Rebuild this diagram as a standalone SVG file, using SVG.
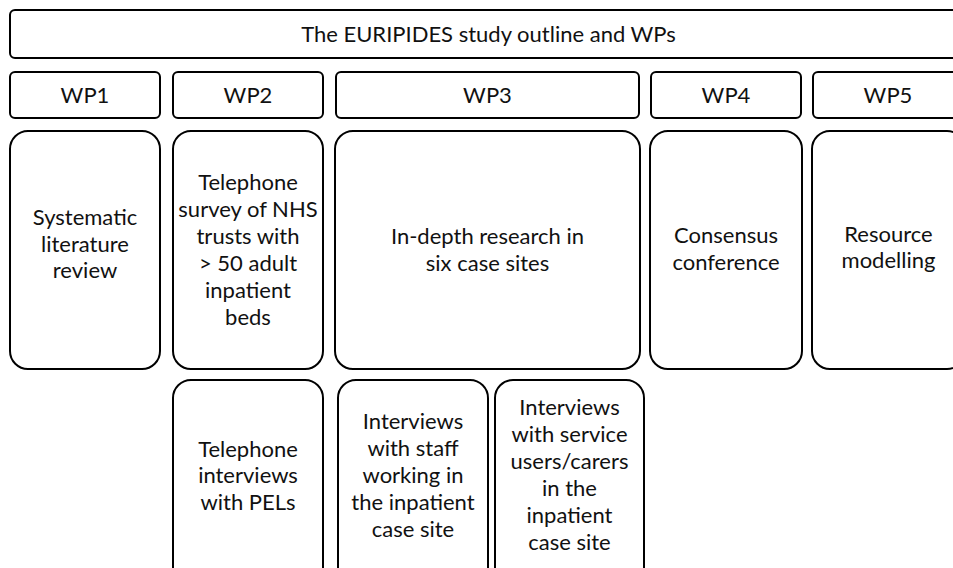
<svg xmlns="http://www.w3.org/2000/svg" width="953" height="568" viewBox="0 0 953 568">
<style>
.b{fill:#fff;stroke:#000;stroke-width:2}
text{font-family:Lato,"Open Sans","Liberation Sans",sans-serif;font-size:22px;fill:#111;text-anchor:middle}
</style>
<rect width="953" height="568" fill="#fff"/>
<g id="title"><rect class="b" x="10" y="10" width="957" height="48" rx="5"/><text x="488.5" y="42">The EURIPIDES study outline and WPs</text></g>
<g id="wp1"><rect class="b" x="10" y="72" width="150" height="46" rx="5"/><text x="85" y="103">WP1</text></g>
<g id="wp2"><rect class="b" x="173" y="72" width="150" height="46" rx="5"/><text x="248" y="103">WP2</text></g>
<g id="wp3"><rect class="b" x="336" y="72" width="303" height="46" rx="5"/><text x="487.5" y="103">WP3</text></g>
<g id="wp4"><rect class="b" x="651" y="72" width="150" height="46" rx="5"/><text x="726" y="103">WP4</text></g>
<g id="wp5"><rect class="b" x="813" y="72" width="150" height="46" rx="5"/><text x="888" y="103">WP5</text></g>
<g id="slr"><rect class="b" x="10" y="131" width="150" height="238" rx="18"/><text x="85" y="225">Systematic</text><text x="85" y="252">literature</text><text x="85" y="278">review</text></g>
<g id="survey"><rect class="b" x="173" y="131" width="150" height="238" rx="18"/><text x="248" y="190">Telephone</text><text x="248" y="217">survey of NHS</text><text x="248" y="244">trusts with</text><text x="248" y="271">&gt; 50 adult</text><text x="248" y="298">inpatient</text><text x="248" y="325">beds</text></g>
<g id="indepth"><rect class="b" x="335" y="131" width="305" height="238" rx="18"/><text x="487.5" y="244">In-depth research in</text><text x="487.5" y="271">six case sites</text></g>
<g id="consensus"><rect class="b" x="650" y="131" width="152" height="238" rx="18"/><text x="726" y="243">Consensus</text><text x="726" y="270">conference</text></g>
<g id="resource"><rect class="b" x="812" y="131" width="153" height="238" rx="18"/><text x="888.5" y="242">Resource</text><text x="888.5" y="268">modelling</text></g>
<g id="pels"><rect class="b" x="173" y="380" width="150" height="210" rx="18"/><text x="248" y="457">Telephone</text><text x="248" y="483">interviews</text><text x="248" y="510">with PELs</text></g>
<g id="staff"><rect class="b" x="338" y="380" width="150" height="210" rx="18"/><text x="413" y="429">Interviews</text><text x="413" y="456">with staff</text><text x="413" y="483">working in</text><text x="413" y="510">the inpatient</text><text x="413" y="537">case site</text></g>
<g id="users"><rect class="b" x="495" y="380" width="149" height="210" rx="18"/><text x="569.5" y="415">Interviews</text><text x="569.5" y="442">with service</text><text x="569.5" y="469">users/carers</text><text x="569.5" y="496">in the</text><text x="569.5" y="523">inpatient</text><text x="569.5" y="550">case site</text></g>
<g id="connectors"></g>
</svg>
